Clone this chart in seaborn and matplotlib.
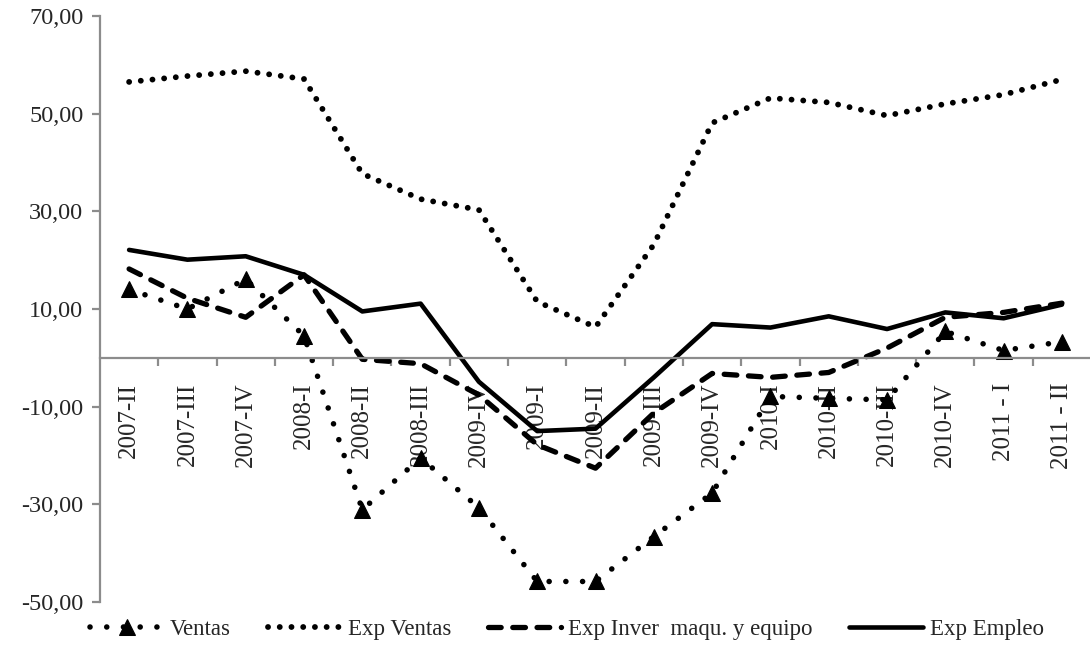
import numpy as np
import pandas as pd
import matplotlib
matplotlib.use("Agg")
import matplotlib.pyplot as plt
import seaborn as sns
from matplotlib.ticker import FixedLocator, FuncFormatter

# quarters as they appear on the chart
periodos = ["2007-II", "2007-III", "2007-IV", "2008-I", "2008-II", "2008-III",
            "2009-IV", "2009-I", "2009-II", "2009-III", "2009-IV", "2010-I",
            "2010-II", "2010-III", "2010-IV", "2011 - I", "2011 - II"]

ventas = [14.0, 10.0, 16.1, 4.5, -31.1, -20.5, -30.7, -45.8, -45.8, -36.6,
          -27.7, -7.9, -8.3, -8.6, 5.4, 1.5, 3.3]
exp_ventas = [56.5, 57.7, 58.7, 57.1, 37.7, 32.5, 30.3, 11.5, 6.3, 23.2,
              48.1, 53.2, 52.3, 49.6, 52.0, 53.9, 57.0]
exp_inver = [18.2, 12.2, 8.3, 17.0, -0.3, -1.2, -7.6, -17.8, -22.6, -11.3,
             -3.2, -4.0, -3.0, 2.0, 8.3, 9.3, 11.2]
exp_empleo = [22.1, 20.1, 20.8, 17.0, 9.5, 11.1, -4.9, -15.0, -14.5, -4.0,
              6.9, 6.2, 8.5, 5.9, 9.3, 8.1, 10.9]

sns.set_style("white")
plt.rcParams["font.family"] = ["Liberation Serif", "DejaVu Serif"]

x = np.arange(len(periodos))
fig = plt.figure(figsize=(10.9, 6.53), dpi=100)
ax = fig.add_axes([0.0917, 0.0781, 0.9093, 0.8974])

sns.lineplot(x=x, y=ventas, ax=ax, color="black", lw=4.0,
             linestyle=(0, (0.01, 3.0)), dash_capstyle="round",
             marker="^", markersize=12, markeredgecolor="black", label="Ventas")
sns.lineplot(x=x, y=exp_ventas, ax=ax, color="black", lw=4.2,
             linestyle=(0, (0.01, 2.0)), dash_capstyle="round", label="Exp Ventas")
sns.lineplot(x=x, y=exp_inver, ax=ax, color="black", lw=3.8,
             linestyle=(0, (2.4, 2.2)), dash_capstyle="round",
             label="Exp Inver  maqu. y equipo")
sns.lineplot(x=x, y=exp_empleo, ax=ax, color="black", lw=3.3, label="Exp Empleo")

ax.set_xlim(-0.5, len(periodos) - 0.5)
ax.set_ylim(-50, 70)
ax.yaxis.set_major_locator(FixedLocator([-50, -30, -10, 10, 30, 50, 70]))
ax.yaxis.set_major_formatter(FuncFormatter(lambda v, p: f"{v:.2f}".replace(".", ",")))

ax.set_xticks(x)
ax.set_xticklabels(periodos)
ax.set_xticks(np.arange(0.5, len(periodos) - 0.5, 1), minor=True)

gris = "#8c8c8c"
for s in ["top", "right"]:
    ax.spines[s].set_visible(False)
ax.spines["left"].set_color(gris)
ax.spines["left"].set_linewidth(1.6)
ax.spines["bottom"].set_position(("data", 0))
ax.spines["bottom"].set_color(gris)
ax.spines["bottom"].set_linewidth(1.6)

ax.tick_params(axis="y", which="major", direction="out", length=6, width=1.6,
               color=gris, labelsize=17.5, pad=6, left=True)
ax.tick_params(axis="x", which="major", length=0, labelsize=18, pad=18)
ax.tick_params(axis="x", which="minor", direction="out", length=6, width=1.6,
               color=gris, bottom=True)
ax.set_xlabel("")
ax.set_ylabel("")
plt.setp(ax.get_xticklabels(), rotation=90, va="top", ha="center")

ax.get_legend().remove()
h, l = ax.get_legend_handles_labels()
fig.legend(h, l, loc="lower center", bbox_to_anchor=(0.52, -0.012), ncol=4,
           frameon=False, fontsize=16.5, handlelength=3.2, handletextpad=0.3,
           columnspacing=1.6)

fig.savefig("out.png", dpi=100)
